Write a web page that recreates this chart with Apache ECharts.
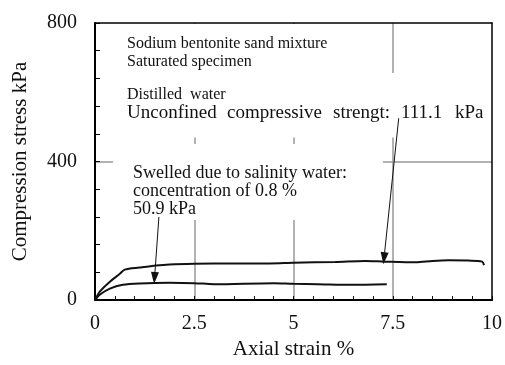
<!DOCTYPE html>
<html>
<head>
<meta charset="utf-8">
<script src="https://cdn.jsdelivr.net/npm/echarts@6/dist/echarts.min.js"></script>
<style>
  html, body { margin: 0; padding: 0; background: #fff; }
  #chart { width: 505px; height: 365px; }
</style>
</head>
<body>
<div id="chart"></div>
<script>
// distilled water curve (strain %, stress kPa)
var distilledStrain = [0, 0.125, 0.375, 0.625, 0.75, 1.125, 1.54, 1.875, 2.5, 3.5, 4.4, 5, 6.05, 6.8, 7.3, 8.08, 8.5, 8.9, 9.4, 9.75, 9.8];
var distilledStress = [0, 25, 53, 76, 88, 94, 100, 103, 105, 106, 106, 108, 110, 113, 111, 109, 113, 115, 114, 111, 101];
// swelled (salinity 0.8 %) curve
var swelledStrain = [0, 0.125, 0.375, 0.7, 1.125, 1.875, 2.5, 3, 4.5, 5, 5.6, 6.45, 7.35];
var swelledStress = [0, 16, 33, 44, 48, 50, 49, 46, 49, 47, 46, 44, 46];

var yTickLabels = [0, 400, 800];
var xTickLabels = [0, 2.5, 5, 7.5, 10];

function pairs(xs, ys) {
  var out = [];
  for (var i = 0; i < xs.length; i++) {
    out.push([xs[i], ys[i]]);
  }
  return out;
}

var serif = 'Liberation Serif';
var myChart = echarts.init(document.getElementById('chart'));

var boxStyle = {
  fontFamily: serif,
  fontWeight: 'normal',
  color: '#111'
};

// the strength line is typeset with wide word spacing in the original
function word(w) {
  return { width: w, fontFamily: serif, fontSize: 19, lineHeight: 18, color: '#111' };
}

var option = {
  animation: false,
  backgroundColor: '#fff',
  title: [
    {
      text: 'Sodium bentonite sand mixture\nSaturated specimen',
      left: 113, top: 24, z: 1,
      backgroundColor: '#fff',
      padding: [11, 30, 3, 14],
      textStyle: Object.assign({ fontSize: 16, lineHeight: 18 }, boxStyle)
    },
    {
      text: 'Distilled  water\n{a|Unconfined}{b|compressive}{c|strengt:}{d|111.1}{e|kPa}',
      left: 113, top: 73, z: 1,
      backgroundColor: '#fff',
      padding: [13, 5, 15, 14],
      textStyle: Object.assign({
        fontSize: 16,
        lineHeight: 18,
        rich: { a: word(100), b: word(106), c: word(68), d: word(54), e: word(30) }
      }, boxStyle)
    },
    {
      text: 'Swelled due to salinity water:\nconcentration of 0.8 %\n50.9 kPa',
      left: 113, top: 144, z: 1,
      backgroundColor: '#fff',
      padding: [20, 36, 2, 20],
      textStyle: Object.assign({ fontSize: 18, lineHeight: 18 }, boxStyle)
    }
  ],
  grid: {
    left: 95,
    right: 10,
    top: 23,
    bottom: 57
  },
  xAxis: [
    {
      type: 'value',
      min: 0,
      max: 10,
      interval: 0.5,
      name: 'Axial strain %',
      nameLocation: 'middle',
      nameGap: 28,
      nameTextStyle: { fontFamily: serif, fontSize: 21, color: '#111' },
      axisLine: { show: true, onZero: false, lineStyle: { color: '#000', width: 2 } },
      axisTick: { show: true, inside: true, length: 4, lineStyle: { color: '#000', width: 1 } },
      axisLabel: {
        margin: 14,
        fontFamily: serif,
        fontSize: 20,
        color: '#111',
        formatter: function (v) {
          return xTickLabels.indexOf(v) >= 0 ? String(v) : '';
        }
      },
      splitLine: { show: false }
    },
    {
      type: 'value',
      position: 'top',
      min: 0,
      max: 10,
      interval: 2.5,
      axisLine: { show: true, onZero: false, lineStyle: { color: '#000', width: 1.5 } },
      axisTick: { show: false },
      axisLabel: { show: false },
      splitLine: { show: true, showMinLine: false, showMaxLine: false, lineStyle: { color: '#999', width: 1.5 } }
    }
  ],
  yAxis: [
    {
      type: 'value',
      min: 0,
      max: 800,
      interval: 80,
      name: 'Compression stress kPa',
      nameLocation: 'middle',
      nameGap: 64,
      nameTextStyle: { fontFamily: serif, fontSize: 21, color: '#111' },
      axisLine: { show: true, onZero: false, lineStyle: { color: '#000', width: 2 } },
      axisTick: { show: true, inside: true, length: 5, lineStyle: { color: '#000', width: 1 } },
      axisLabel: {
        margin: 18,
        fontFamily: serif,
        fontSize: 20,
        color: '#111',
        formatter: function (v) {
          return yTickLabels.indexOf(v) >= 0 ? String(v) : '';
        }
      },
      splitLine: { show: false }
    },
    {
      type: 'value',
      position: 'right',
      min: 0,
      max: 800,
      interval: 400,
      axisLine: { show: true, onZero: false, lineStyle: { color: '#000', width: 1.5 } },
      axisTick: { show: false },
      axisLabel: { show: false },
      splitLine: { show: true, showMinLine: false, showMaxLine: false, lineStyle: { color: '#999', width: 1.5 } }
    }
  ],
  series: [
    {
      name: 'Distilled water',
      type: 'line',
      xAxisIndex: 0,
      yAxisIndex: 0,
      z: 2,
      smooth: 0.3,
      showSymbol: false,
      lineStyle: { color: '#111', width: 2 },
      data: pairs(distilledStrain, distilledStress),
      markLine: {
        silent: true,
        symbol: ['none', 'triangle'],
        symbolSize: [8, 12],
        label: { show: false },
        lineStyle: { color: '#111', width: 1, type: 'solid' },
        data: [
          [{ coord: [7.65, 525] }, { coord: [7.28, 121] }]
        ]
      }
    },
    {
      name: 'Salinity 0.8 %',
      type: 'line',
      xAxisIndex: 0,
      yAxisIndex: 0,
      z: 2,
      smooth: 0.3,
      showSymbol: false,
      lineStyle: { color: '#111', width: 2 },
      data: pairs(swelledStrain, swelledStress),
      markLine: {
        silent: true,
        symbol: ['none', 'triangle'],
        symbolSize: [8, 12],
        label: { show: false },
        lineStyle: { color: '#111', width: 1, type: 'solid' },
        data: [
          [{ coord: [1.61, 240] }, { coord: [1.5, 64] }]
        ]
      }
    }
  ]
};

myChart.setOption(option, true);
</script>
</body>
</html>
